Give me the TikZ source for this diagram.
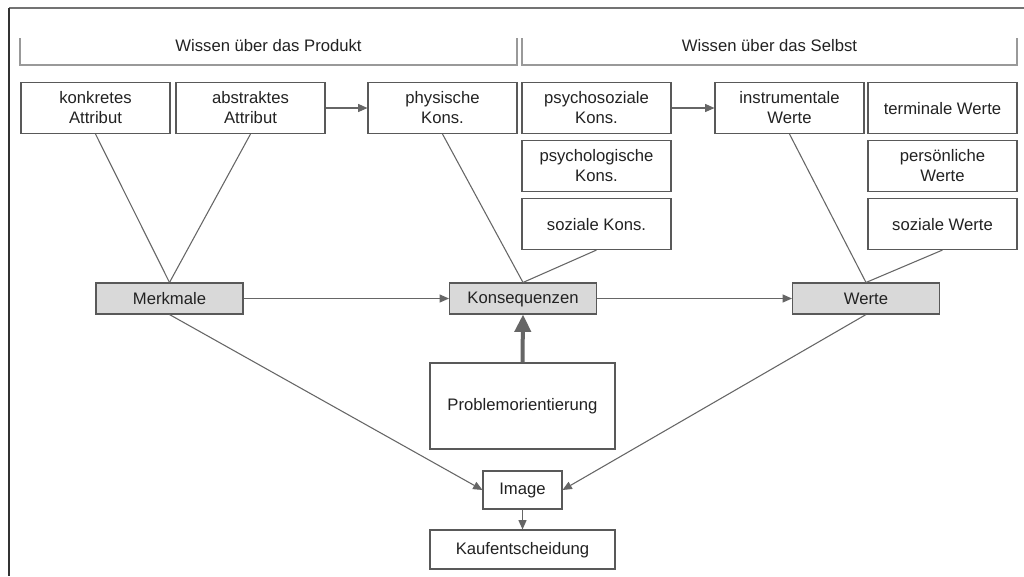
\documentclass[tikz,border=0pt]{standalone}
\usepackage{fontspec}
\setmainfont{Liberation Sans}
\usetikzlibrary{arrows.meta}
\definecolor{edge}{HTML}{666666}
\definecolor{boxline}{HTML}{595959}
\definecolor{txt}{HTML}{222222}
\definecolor{hub}{HTML}{D9D9D9}
% vertical spacer so single-line labels centre on their capitals
\newcommand{\capstrut}{\rule[-1pt]{0pt}{11pt}}
\begin{document}
\begin{tikzpicture}[x=0.75pt,y=-0.75pt,
  every node/.style={font=\fontsize{12.5pt}{15pt}\selectfont, text=txt, align=center, inner sep=0pt},
  oneline/.style={execute at begin node=\capstrut},
  attr/.style={draw=boxline, line width=0.8pt, fill=white, minimum width=111.75pt, minimum height=38.25pt},
  hubbox/.style={draw=boxline, line width=0.8pt, fill=hub, minimum width=110.25pt, minimum height=23.25pt, oneline},
  plainbox/.style={draw=boxline, line width=0.8pt, fill=white, oneline},
  link/.style={draw=edge, line width=0.8pt},
  flow/.style={link, -{Triangle[length=7pt,width=6pt]}},
  bigflow/.style={draw=edge, line width=3pt, -{Triangle[length=13pt,width=12pt]}},
  brace/.style={draw=black!40, line width=1.1pt}
]
\useasboundingbox (0,0) rectangle (1024,576);
\fill[white] (0,0) rectangle (1024,576);

% frame
\draw[black!55, line width=1.3pt] (9,8) -- (1024,8);
\draw[black!80, line width=1.3pt] (9,8) -- (9,576);

% group brackets
\draw[brace] (20,38) -- (20,65) -- (517,65) -- (517,38);
\draw[brace] (522,38) -- (522,65) -- (1017,65) -- (1017,38);
\node[oneline] (kprod) at (268.5,45) {Wissen über das Produkt};
\node[oneline] (kself) at (769.5,45) {Wissen über das Selbst};

% top row
\node[attr] (konk) at (95.5,108) {konkretes\\Attribut};
\node[attr] (abst) at (250.5,108) {abstraktes\\Attribut};
\node[attr] (phys) at (442.5,108) {physische\\Kons.};
\node[attr] (psoz) at (596.5,108) {psychosoziale\\Kons.};
\node[attr] (inst) at (789.5,108) {instrumentale\\Werte};
\node[attr, oneline] (term) at (942.5,108) {terminale Werte};
\node[attr] (psyc) at (596.5,166) {psychologische\\Kons.};
\node[attr] (pers) at (942.5,166) {persönliche\\Werte};
\node[attr, oneline] (sozk) at (596.5,224) {soziale Kons.};
\node[attr, oneline] (sozw) at (942.5,224) {soziale Werte};

% middle row
\node[hubbox] (merk) at (169.5,298.5) {Merkmale};
\node[hubbox] (kons) at (523,298.5) {Konsequenzen};
\node[hubbox] (wert) at (866,298.5) {Werte};

% lower part
\node[plainbox, minimum width=138.75pt, minimum height=64.5pt] (prob) at (522.5,406) {Problemorientierung};
\node[plainbox, minimum width=59.25pt, minimum height=28.5pt] (img) at (522.5,490) {Image};
\node[plainbox, minimum width=138.75pt, minimum height=29.25pt] (kauf) at (522.5,549.5) {Kaufentscheidung};

% connectors
\draw[link] (konk.south) -- (merk.north);
\draw[link] (abst.south) -- (merk.north);
\draw[link] (phys.south) -- (kons.north);
\draw[link] (sozk.south) -- (kons.north);
\draw[link] (inst.south) -- (wert.north);
\draw[link] (sozw.south) -- (wert.north);
\draw[flow] (abst.east) -- (phys.west);
\draw[flow] (psoz.east) -- (inst.west);
\draw[flow] (merk.east) -- (kons.west);
\draw[flow] (kons.east) -- (wert.west);
\draw[bigflow] (prob.north) -- (kons.south);
\draw[flow] (merk.south) -- (img.west);
\draw[flow] (wert.south) -- (img.east);
\draw[flow] (img.south) -- (kauf.north);
\end{tikzpicture}
\end{document}
